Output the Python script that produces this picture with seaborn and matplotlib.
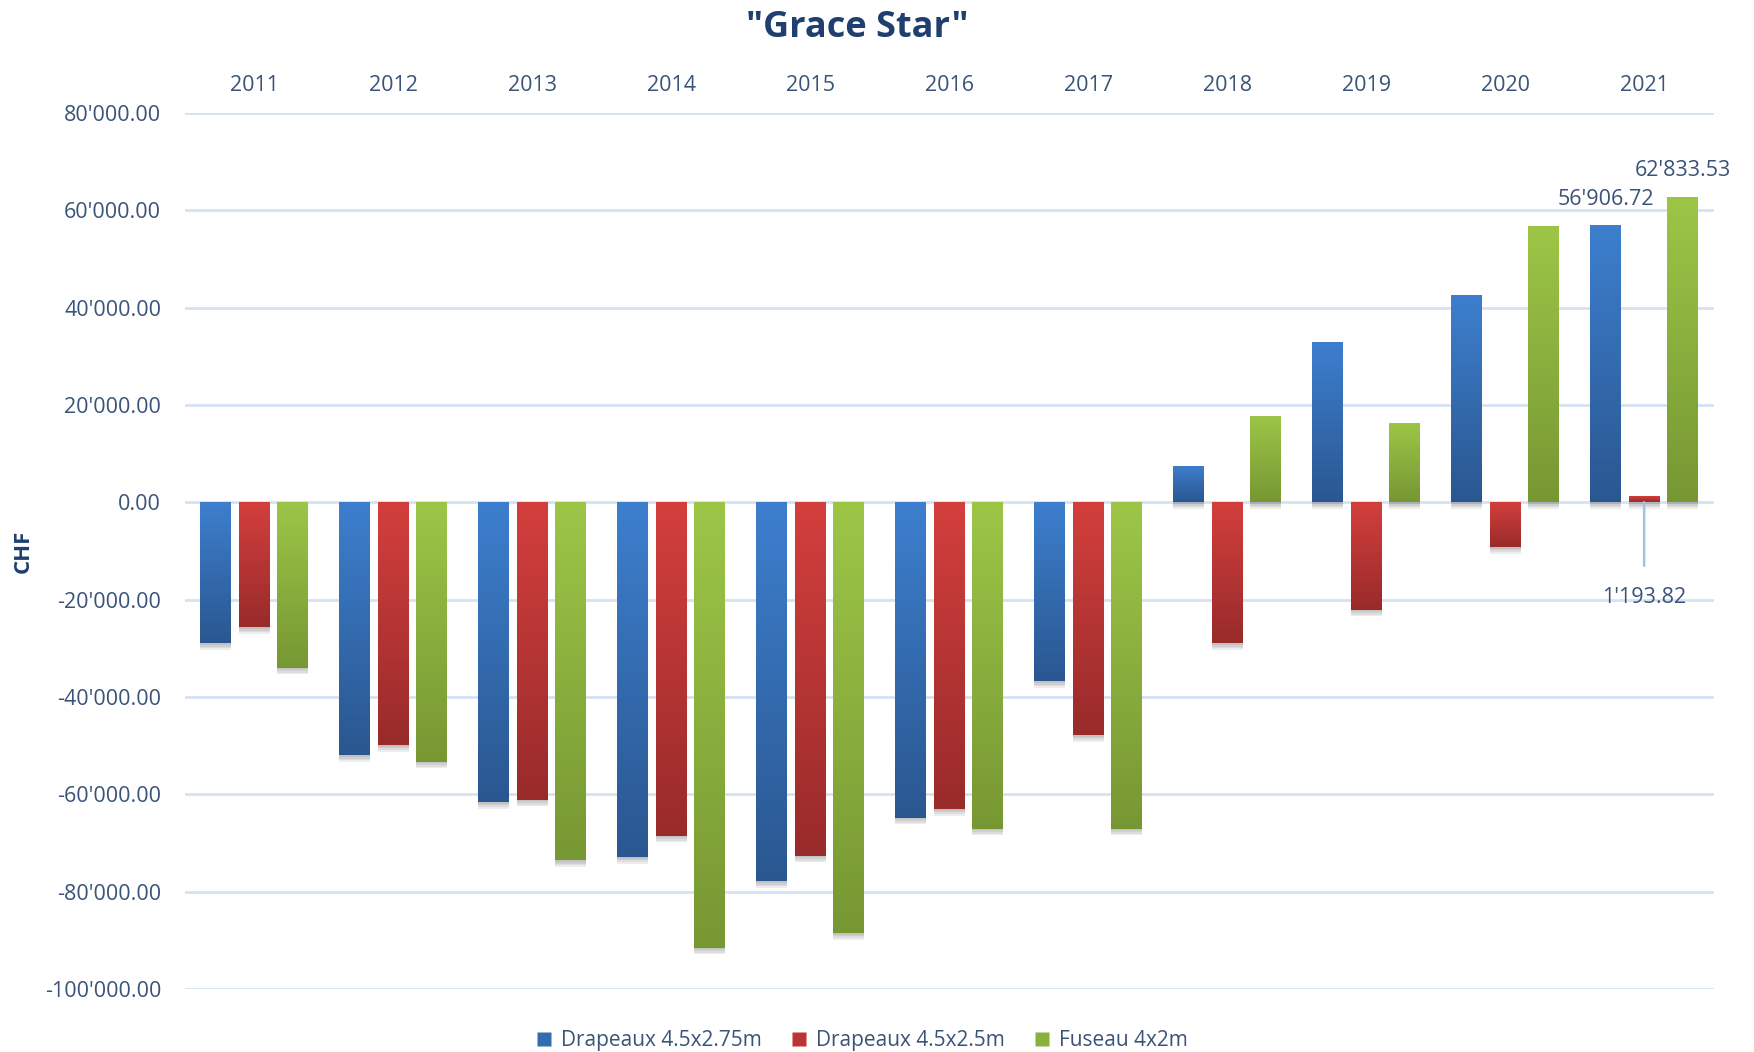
import numpy as np
import pandas as pd
import matplotlib
matplotlib.use("Agg")
import matplotlib.pyplot as plt
import seaborn as sns
from matplotlib.colors import LinearSegmentedColormap
from matplotlib.lines import Line2D
import matplotlib.patheffects as pe

# ---------------- data ----------------
years = ["2011", "2012", "2013", "2014", "2015", "2016", "2017", "2018", "2019", "2020", "2021"]
series_names = ["Drapeaux 4.5x2.75m", "Drapeaux 4.5x2.5m", "Fuseau 4x2m"]
drapeaux_275 = [-29000, -52000, -61600, -72900, -77900, -64800, -36800, 7400, 32900, 42500, 56906.72]
drapeaux_25 = [-25700, -49900, -61100, -68500, -72600, -63000, -47800, -29000, -22100, -9200, 1193.82]
fuseau_4x2 = [-34000, -53300, -73600, -91500, -88500, -67100, -67100, 17700, 16300, 56800, 62833.53]
yticks = [-100000, -80000, -60000, -40000, -20000, 0, 20000, 40000, 60000, 80000]
labelled = {("2021", 0), ("2021", 2)}   # labels above bars
below_label = ("2021", 1)                 # label with leader line

top_colors = ["#3D7FCE", "#D33F3D", "#9DC647"]
bottom_colors = ["#2A5790", "#982B2A", "#779733"]
mid_colors = ["#346CB0", "#B93634", "#8AB03E"]

df = pd.DataFrame({
    "Année": years * 3,
    "Série": sum([[s] * len(years) for s in series_names], []),
    "CHF": drapeaux_275 + drapeaux_25 + fuseau_4x2,
})

def fmt(v):
    return f"{v:,.2f}".replace(",", "'")

text_col = "#3A5378"
title_col = "#1F3F6E"
grid_col = "#D5E2F1"

plt.rcParams["font.family"] = ["Open Sans", "DejaVu Sans"]

fig = plt.figure(figsize=(17.54, 10.52), dpi=100)
ax = fig.add_axes([0.1053, 0.060, 0.8717, 0.8326])

sns.barplot(data=df, x="Année", y="CHF", hue="Série", hue_order=series_names,
            palette=mid_colors, width=0.83, gap=0.2, ax=ax, legend=False,
            errorbar=None, saturation=1, zorder=3)

ax.set_ylim(-100000, 80000)
ax.set_xlim(-0.5, len(years) - 0.5)

shadow = [pe.SimplePatchShadow(offset=(0, -d), shadow_rgbFace="#555555", alpha=0.1)
          for d in (1.2, 2.4, 3.6, 4.8)]

grad = np.linspace(0, 1, 256).reshape(-1, 1)
for ci, cont in enumerate(ax.containers):
    cmap = LinearSegmentedColormap.from_list(f"g{ci}", [bottom_colors[ci], top_colors[ci]])
    for bi, patch in enumerate(cont.patches):
        x, y = patch.get_x(), patch.get_y()
        w, h = patch.get_width(), patch.get_height()
        y0, y1 = min(y, y + h), max(y, y + h)
        patch.set_edgecolor("none")
        patch.set_path_effects(shadow + [pe.Normal()])
        im = ax.imshow(grad, extent=[x, x + w, y0, y1], origin="lower", cmap=cmap,
                       aspect="auto", zorder=4, interpolation="bilinear")
        im.set_clip_path(patch)
        key = (years[bi], ci)
        val = [drapeaux_275, drapeaux_25, fuseau_4x2][ci][bi]
        cx = x + w / 2
        if key in labelled:
            ax.annotate(fmt(val), xy=(cx, y1), xytext=(0, 11), textcoords="offset points",
                        ha="center", va="bottom", fontsize=15.5, color=text_col, zorder=6)
        if key == below_label:
            ax.annotate(fmt(val), xy=(cx, y0), xytext=(cx, -19500), textcoords="data",
                        ha="center", va="center", fontsize=15.5, color=text_col, zorder=6,
                        arrowprops=dict(arrowstyle="-", color="#9DC3E6", lw=1.8,
                                        shrinkA=13, shrinkB=0))

ax.set_ylim(-100000, 80000)
ax.set_xlim(-0.5, len(years) - 0.5)

ax.set_yticks(yticks)
ax.set_yticklabels([fmt(v) for v in yticks])
ax.yaxis.grid(True, color=grid_col, linewidth=2, zorder=0)
ax.xaxis.grid(False)
ax.set_axisbelow(True)
ax.tick_params(axis="y", length=0, pad=17, labelsize=15.5, labelcolor=text_col)
ax.xaxis.tick_top()
ax.tick_params(axis="x", length=0, pad=12, labelsize=15.5, labelcolor=text_col)
ax.set_xlabel("")
ax.set_ylabel("")
for s in ax.spines.values():
    s.set_visible(False)

fig.text(0.0135, 0.476, "CHF", rotation=90, ha="center", va="center",
         fontsize=16, fontweight="bold", color=title_col)
fig.text(0.489, 0.973, '"Grace Star"', ha="center", va="center",
         fontsize=26, fontweight="bold", color=title_col)

handles = [Line2D([0], [0], marker="s", linestyle="none", markersize=10,
                  markerfacecolor=c, markeredgecolor="none") for c in mid_colors]
leg = fig.legend(handles, series_names, loc="center", bbox_to_anchor=(0.489, 0.0105),
                 ncol=3, frameon=False, fontsize=15, handletextpad=0.0, columnspacing=1.0,
                 handlelength=1.6, labelcolor=text_col)

fig.savefig("out.png", dpi=100, facecolor="white")
